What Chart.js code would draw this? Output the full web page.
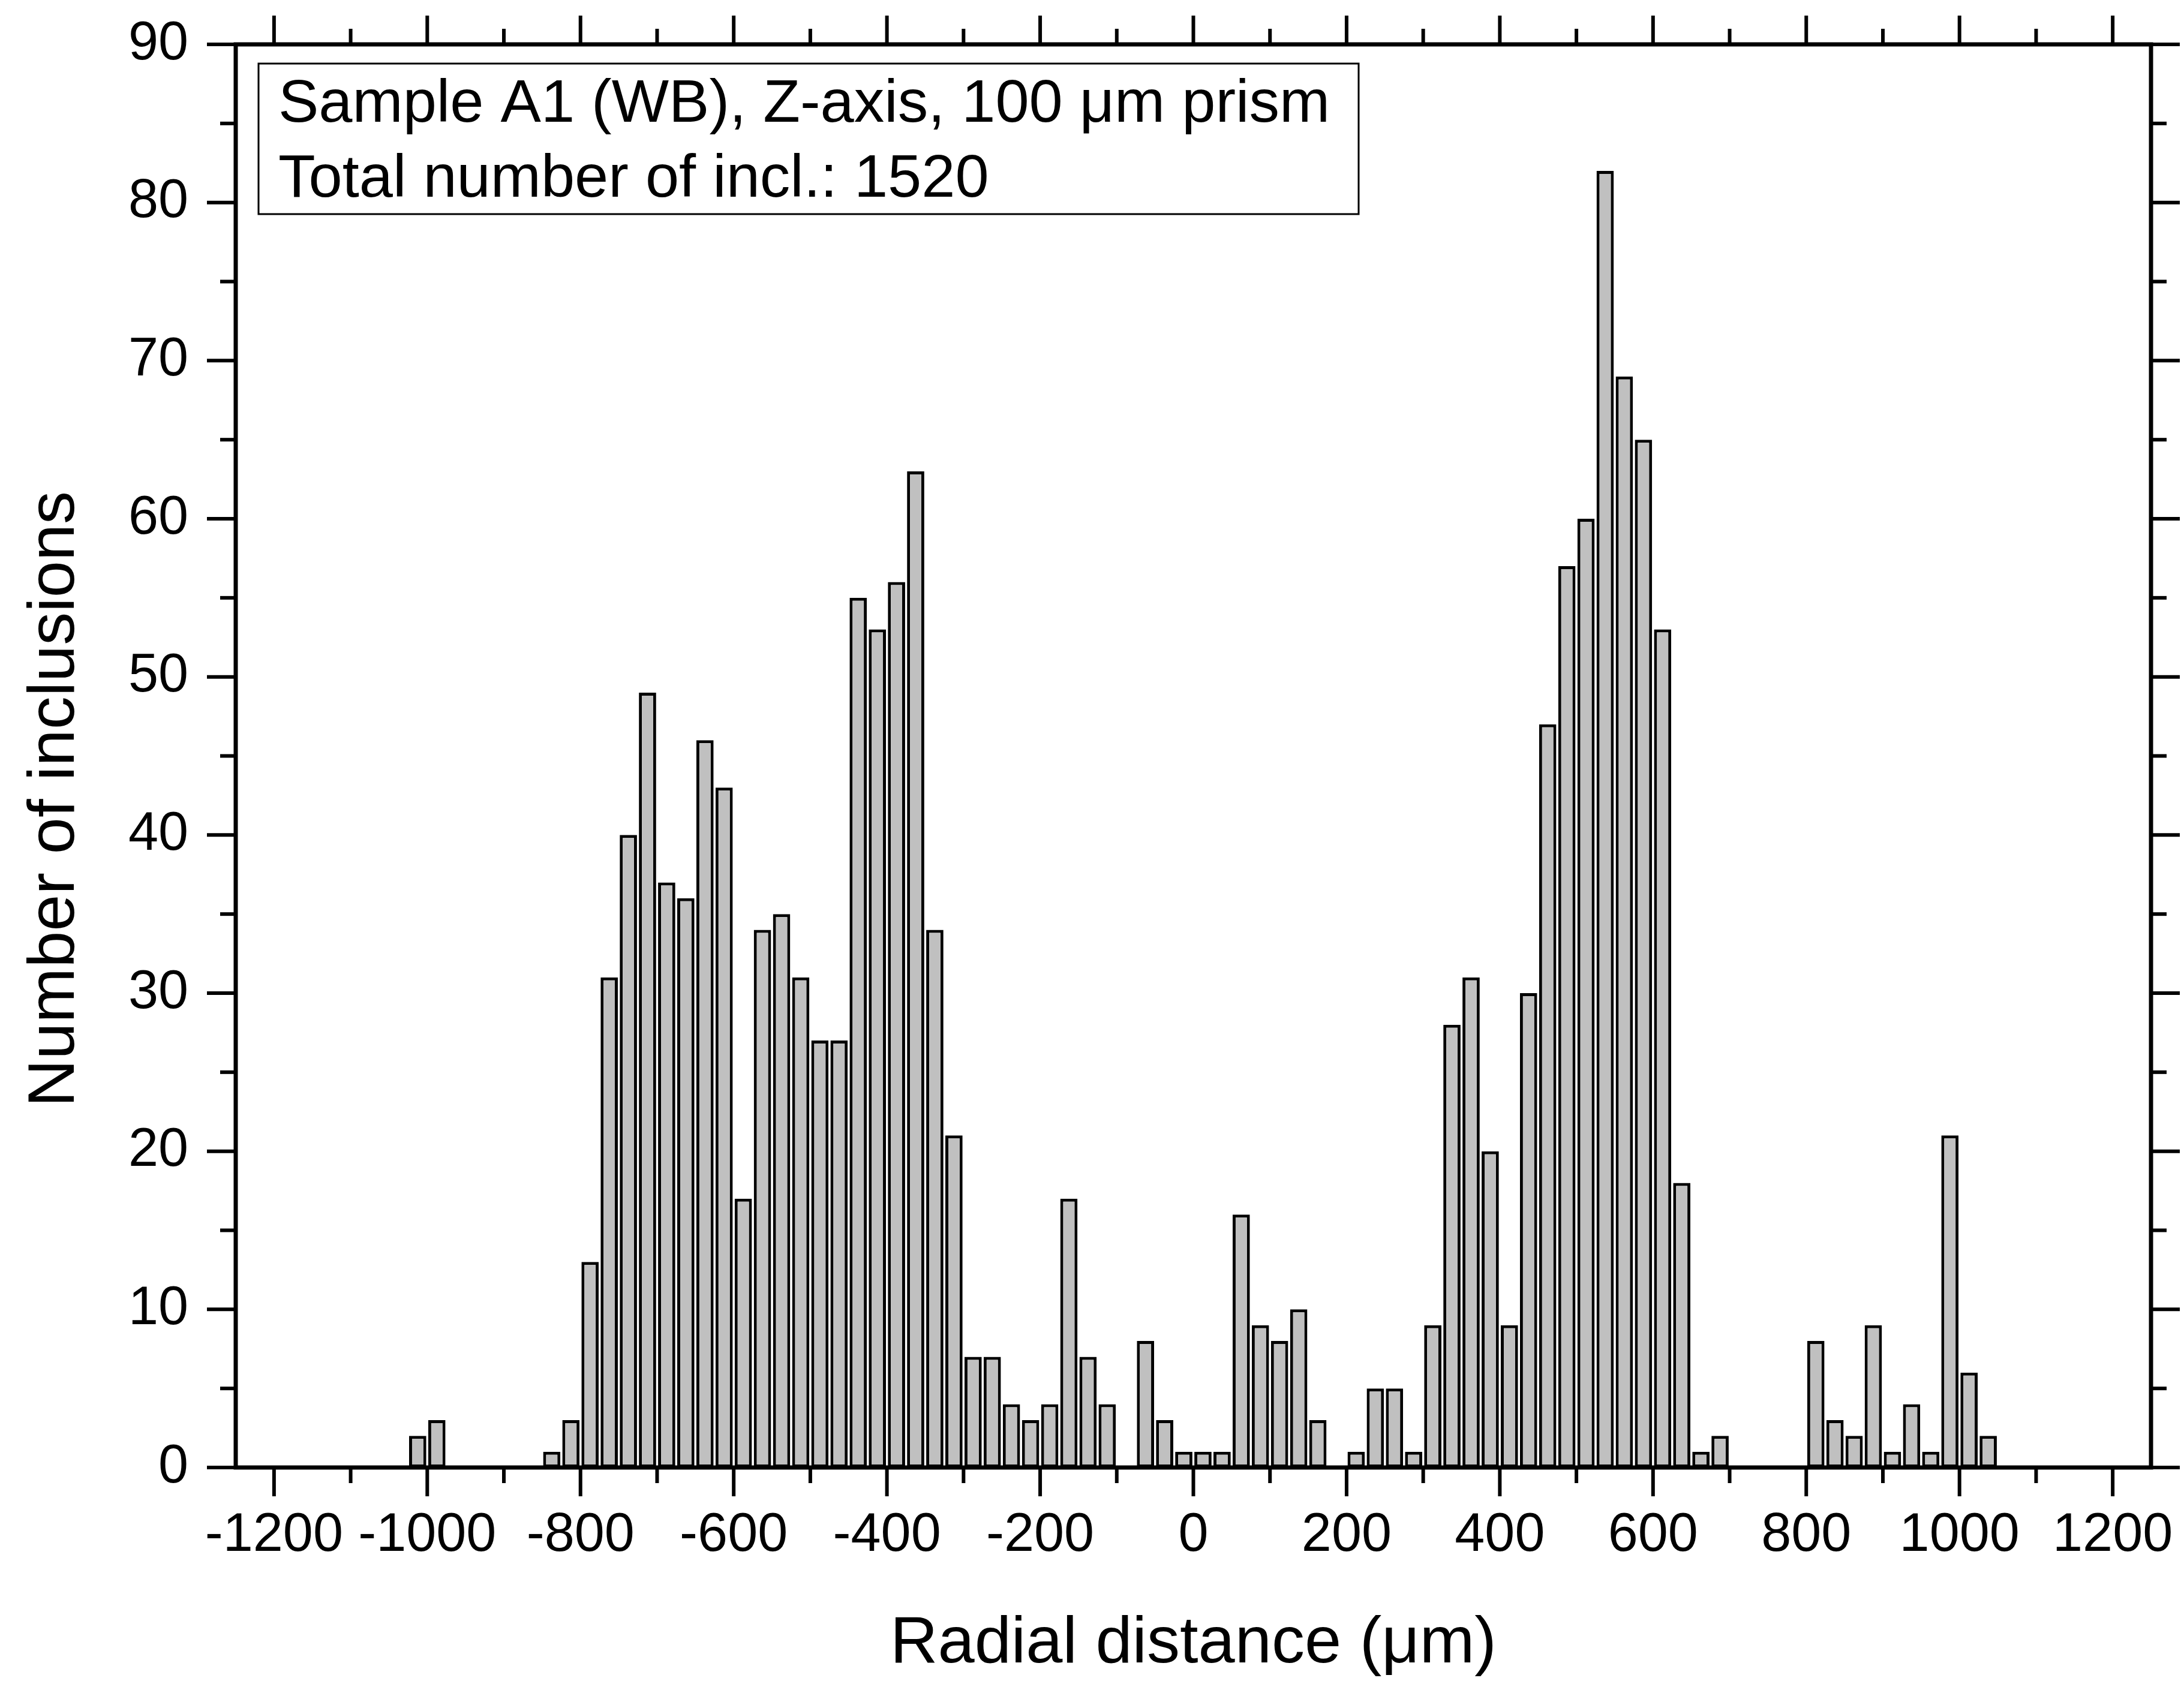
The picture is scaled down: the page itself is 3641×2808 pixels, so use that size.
<!DOCTYPE html>
<html>
<head>
<meta charset="utf-8">
<title>Sample A1 (WB) - radial distribution</title>
<script src="https://cdn.jsdelivr.net/npm/chart.js@4.4.1/dist/chart.umd.min.js"></script>
<style>
  html, body { margin: 0; padding: 0; background: #fff; }
  #wrap { position: relative; width: 3641px; height: 2808px; }
</style>
</head>
<body>
<div id="wrap"><canvas id="grafico"></canvas></div>
<script>
// bin centres (µm), 25 µm bins
const binCenters = [
  -1012.5, -987.5, -962.5, -937.5, -912.5, -887.5, -862.5, -837.5, -812.5, -787.5,
  -762.5, -737.5, -712.5, -687.5, -662.5, -637.5, -612.5, -587.5, -562.5, -537.5,
  -512.5, -487.5, -462.5, -437.5, -412.5, -387.5, -362.5, -337.5, -312.5, -287.5,
  -262.5, -237.5, -212.5, -187.5, -162.5, -137.5, -112.5, -87.5, -62.5, -37.5,
  -12.5, 12.5, 37.5, 62.5, 87.5, 112.5, 137.5, 162.5, 187.5, 212.5,
  237.5, 262.5, 287.5, 312.5, 337.5, 362.5, 387.5, 412.5, 437.5, 462.5,
  487.5, 512.5, 537.5, 562.5, 587.5, 612.5, 637.5, 662.5, 687.5, 712.5,
  737.5, 762.5, 787.5, 812.5, 837.5, 862.5, 887.5, 912.5, 937.5, 962.5,
  987.5, 1012.5, 1037.5
];
// number of inclusions per bin (sum = 1520)
const counts = [
  2, 3, 0, 0, 0, 0, 0, 1, 3, 13,
  31, 40, 49, 37, 36, 46, 43, 17, 34, 35,
  31, 27, 27, 55, 53, 56, 63, 34, 21, 7,
  7, 4, 3, 4, 17, 7, 4, 0, 8, 3,
  1, 1, 1, 16, 9, 8, 10, 3, 0, 1,
  5, 5, 1, 9, 28, 31, 20, 9, 30, 47,
  57, 60, 82, 69, 65, 53, 18, 1, 2, 0,
  0, 0, 0, 8, 3, 2, 9, 1, 4, 1,
  21, 6, 2
];
const xMajorTicks = [-1200, -1000, -800, -600, -400, -200, 0, 200, 400, 600, 800, 1000, 1200];
const xMinorTicks = [-1100, -900, -700, -500, -300, -100, 100, 300, 500, 700, 900, 1100];
const yMajorTicks = [0, 10, 20, 30, 40, 50, 60, 70, 80, 90];
const yMinorTicks = [5, 15, 25, 35, 45, 55, 65, 75, 85];
const infoLines = ['Sample A1 (WB), Z-axis, 100 \u03bcm prism', 'Total number of incl.: 1520'];

const FONT = "'Liberation Sans', Arial, sans-serif";
Chart.defaults.font.family = FONT;
Chart.defaults.color = '#000';

// Origin-style frame: box, outward ticks on all 4 sides, y title, info box
const originFrame = {
  id: 'originFrame',
  afterDatasetsDraw(chart) {
    const { ctx, chartArea: a, scales: { x, y } } = chart;
    ctx.save();
    ctx.strokeStyle = '#000';
    ctx.lineWidth = 7;
    ctx.strokeRect(a.left, a.top, a.right - a.left, a.bottom - a.top);

    ctx.lineWidth = 6;
    const tick = (x1, y1, x2, y2) => {
      ctx.beginPath();
      ctx.moveTo(x1, y1);
      ctx.lineTo(x2, y2);
      ctx.stroke();
    };
    [[xMajorTicks, 48], [xMinorTicks, 26]].forEach(([vals, len]) => {
      vals.forEach(v => {
        const px = x.getPixelForValue(v);
        tick(px, a.bottom, px, a.bottom + len);
        tick(px, a.top, px, a.top - len);
      });
    });
    [[yMajorTicks, 48], [yMinorTicks, 26]].forEach(([vals, len]) => {
      vals.forEach(v => {
        const py = y.getPixelForValue(v);
        tick(a.left, py, a.left - len, py);
        tick(a.right, py, a.right + len, py);
      });
    });

    // y axis title (sits a bit below the middle, like the original)
    ctx.save();
    ctx.translate(a.left - 300, (a.top + a.bottom) / 2 + 72);
    ctx.rotate(-Math.PI / 2);
    ctx.fillStyle = '#000';
    ctx.font = '110px ' + FONT;
    ctx.textAlign = 'center';
    ctx.textBaseline = 'middle';
    ctx.fillText('Number of inclusions', 0, 0);
    ctx.restore();

    // info box
    const bx = a.left + 38, by = a.top + 32;
    ctx.lineWidth = 3;
    ctx.fillStyle = '#fff';
    ctx.fillRect(bx, by, 1834, 251);
    ctx.strokeRect(bx, by, 1834, 251);
    ctx.fillStyle = '#000';
    ctx.font = '101px ' + FONT;
    ctx.textAlign = 'left';
    ctx.textBaseline = 'alphabetic';
    ctx.fillText(infoLines[0], bx + 33, by + 97);
    ctx.fillText(infoLines[1], bx + 33, by + 222);
    ctx.restore();
  }
};

// no extra margins from overhanging labels: the layout padding decides
const noMargins = s => { s.paddingTop = 0; s.paddingBottom = 0; s.paddingLeft = 0; s.paddingRight = 0; };

const ctx = document.getElementById('grafico').getContext('2d');

new Chart(ctx, {
  type: 'bar',
  data: {
    datasets: [{
      label: 'Number of inclusions',
      data: binCenters.map((c, i) => ({ x: c, y: counts[i] })),
      backgroundColor: '#c0c0c0',
      borderColor: '#000',
      borderWidth: 5,
      borderSkipped: false,
      categoryPercentage: 1.0,
      barPercentage: 0.9
    }]
  },
  options: {
    responsive: true,
    maintainAspectRatio: false,
    animation: false,
    devicePixelRatio: 1,
    layout: { padding: { left: 0, top: 74, right: 55, bottom: 0 } },
    scales: {
      x: {
        type: 'linear',
        offset: false,
        min: -1250,
        max: 1250,
        afterBuildTicks: s => { s.ticks = xMajorTicks.map(v => ({ value: v })); },
        afterFit: s => { s.height = 361; noMargins(s); },
        grid: { display: false, drawTicks: false, offset: false },
        border: { display: false },
        ticks: {
          padding: 60,
          autoSkip: false,
          maxRotation: 0,
          font: { size: 90 },
          color: '#000',
          callback: v => String(v)
        },
        title: {
          display: true,
          text: 'Radial distance (\u03bcm)',
          font: { size: 110 },
          color: '#000',
          padding: { top: 0, bottom: 0 }
        }
      },
      y: {
        min: 0,
        max: 90,
        afterBuildTicks: s => { s.ticks = yMajorTicks.map(v => ({ value: v })); },
        afterFit: s => { s.width = 393; noMargins(s); },
        grid: { display: false, drawTicks: false },
        border: { display: false },
        ticks: {
          padding: 79,
          autoSkip: false,
          font: { size: 90 },
          color: '#000',
          callback: v => String(v)
        }
      }
    },
    plugins: {
      legend: { display: false },
      tooltip: { enabled: false }
    }
  },
  plugins: [originFrame]
});
</script>
</body>
</html>
